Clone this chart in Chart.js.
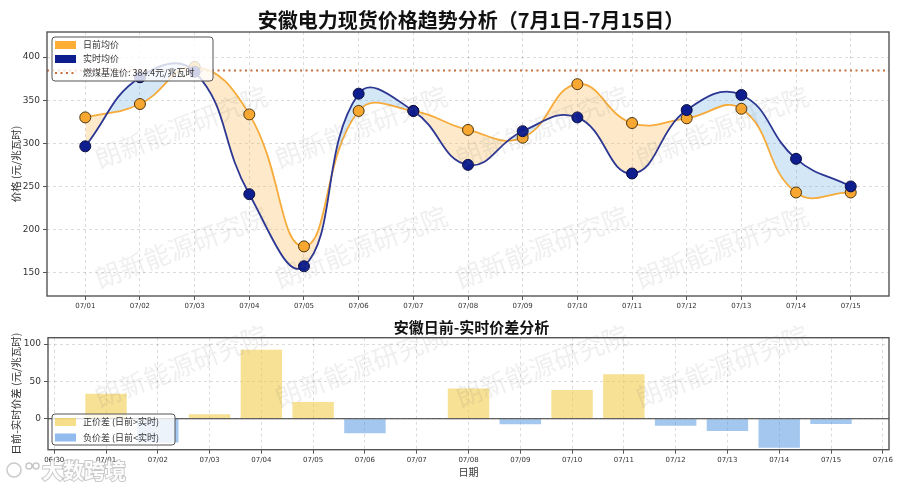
<!DOCTYPE html>
<html>
<head>
<meta charset="utf-8">
<script src="https://cdn.jsdelivr.net/npm/chart.js@4.4.0/dist/chart.umd.min.js"></script>
<style>
  html, body { margin: 0; padding: 0; background: #fff; }
  #wrap { position: relative; width: 900px; height: 489px; overflow: hidden; }
  .box { position: absolute; left: 0; width: 900px; }
</style>
</head>
<body>
<div id="wrap">
  <div class="box" style="top:0;height:315px"><canvas id="priceChart"></canvas></div>
  <div class="box" style="top:315px;height:174px"><canvas id="spreadChart"></canvas></div>
</div>
<script>
// 数据
const dates = ['07/01', '07/02', '07/03', '07/04', '07/05', '07/06', '07/07', '07/08',
  '07/09', '07/10', '07/11', '07/12', '07/13', '07/14', '07/15'];
const dayAhead = [330, 345.5, 388.5, 333.5, 180.5, 337.5, 337.5, 315.5, 306.5, 368.5, 323.5, 329, 340, 243, 243];
const realTime = [296.5, 376.5, 383, 241, 157.5, 357.5, 337.5, 275, 314, 330, 265, 338.5, 356, 282, 250];
const coalBenchmark = 384.4;
const priceTicks = [150, 200, 250, 300, 350, 400];

const spreadLabels = ['06/30', '07/01', '07/02', '07/03', '07/04', '07/05', '07/06', '07/07', '07/08',
  '07/09', '07/10', '07/11', '07/12', '07/13', '07/14', '07/15', '07/16'];
const spread = [33.5, -32, 5.9, 92.5, 22.5, -19.6, 0, 40.6, -7.5, 38.5, 59.5, -9.4, -16.5, -38.9, -7.1];
const spreadTicks = [0, 50, 100];

const CJK = '"Noto Sans CJK SC", sans-serif';
const NUM = '"DejaVu Sans", sans-serif';
const GRID = 'rgba(0,0,0,0.14)';

// 水印 + 边框 + 标题 + 图例
function drawWatermarks(ctx, ys) {
  ctx.save();
  ctx.font = '26px ' + CJK;
  ctx.fillStyle = 'rgba(120,120,120,0.12)';
  ctx.textAlign = 'center';
  ctx.textBaseline = 'middle';
  [181, 361, 542, 722].forEach(x => {
    ys.forEach(y => {
      ctx.save();
      ctx.translate(x, y);
      ctx.rotate(-21 * Math.PI / 180);
      ctx.fillText('朗新能源研究院', 0, 0);
      ctx.restore();
    });
  });
  ctx.restore();
}

function drawFrame(chart) {
  const { ctx, chartArea: a } = chart;
  ctx.save();
  ctx.strokeStyle = '#555';
  ctx.lineWidth = 1.4;
  ctx.strokeRect(a.left, a.top, a.right - a.left, a.bottom - a.top);
  ctx.restore();
}

function drawTitle(chart, text, size, y) {
  const { ctx, chartArea: a } = chart;
  ctx.save();
  ctx.font = 'bold ' + size + 'px ' + CJK;
  ctx.fillStyle = '#111';
  ctx.textAlign = 'center';
  ctx.textBaseline = 'middle';
  ctx.fillText(text, (a.left + a.right) / 2 + 3, y);
  ctx.restore();
}

function drawLegend(ctx, box, items) {
  ctx.save();
  ctx.beginPath();
  ctx.roundRect(box.x, box.y, box.w, box.h, 3);
  ctx.fillStyle = 'rgba(255,255,255,0.8)';
  ctx.fill();
  ctx.strokeStyle = '#555';
  ctx.lineWidth = 1;
  ctx.stroke();
  ctx.font = '9px ' + CJK;
  ctx.textBaseline = 'middle';
  items.forEach((it, i) => {
    const cy = box.y + 8 + i * box.step;
    const sx = box.x + 3;
    if (it.type === 'dots') {
      ctx.strokeStyle = it.color;
      ctx.lineWidth = 2;
      ctx.setLineDash([2, 3.5]);
      ctx.beginPath();
      ctx.moveTo(sx, cy);
      ctx.lineTo(sx + 21, cy);
      ctx.stroke();
      ctx.setLineDash([]);
    } else {
      ctx.fillStyle = it.color;
      ctx.fillRect(sx, cy - 4, 21, 8);
    }
    ctx.fillStyle = '#333';
    ctx.fillText(it.label, box.x + 31, cy);
  });
  ctx.restore();
}

// 价格趋势图
new Chart(document.getElementById('priceChart'), {
  type: 'line',
  data: {
    datasets: [
      {
        label: '日前均价',
        data: dayAhead.map((v, i) => ({ x: i, y: v })),
        borderColor: '#f6ab3a',
        borderWidth: 1.8,
        tension: 0.45,
        pointRadius: 5.5,
        pointBackgroundColor: '#f8a830',
        pointBorderColor: '#4a3410',
        pointBorderWidth: 1,
        order: 2,
        fill: { target: 1, above: 'rgba(253,190,90,0.32)', below: 'rgba(110,175,230,0.3)' }
      },
      {
        label: '实时均价',
        data: realTime.map((v, i) => ({ x: i, y: v })),
        borderColor: '#2c3693',
        borderWidth: 1.8,
        tension: 0.45,
        pointRadius: 5.5,
        pointBackgroundColor: '#0f1e8f',
        pointBorderColor: '#0a0f40',
        pointBorderWidth: 1,
        order: 1,
        fill: false
      },
      {
        label: '燃煤基准价: ' + coalBenchmark + '元/兆瓦时',
        data: [{ x: -0.7, y: coalBenchmark }, { x: 14.7, y: coalBenchmark }],
        borderColor: '#c8703c',
        borderWidth: 2,
        borderDash: [2, 3.5],
        pointRadius: 0,
        order: 3,
        fill: false
      }
    ]
  },
  options: {
    responsive: true,
    maintainAspectRatio: false,
    animation: false,
    layout: { padding: { left: 0, right: 11, top: 32, bottom: 0 } },
    plugins: { legend: { display: false }, tooltip: { enabled: false } },
    scales: {
      x: {
        type: 'linear',
        min: -0.7,
        max: 14.7,
        afterBuildTicks: s => { s.ticks = dates.map((d, i) => ({ value: i })); },
        afterFit: s => { s.height = 19; },
        ticks: {
          callback: v => dates[v],
          font: { size: 7, family: NUM },
          color: '#333',
          padding: 2,
          maxRotation: 0,
          autoSkip: false
        },
        grid: { color: GRID, tickColor: '#555', tickLength: 4 },
        border: { display: false, dash: [3, 3] }
      },
      y: {
        min: 123,
        max: 429,
        afterBuildTicks: s => { s.ticks = priceTicks.map(v => ({ value: v })); },
        afterFit: s => { s.width = 47; },
        ticks: { font: { size: 9, family: NUM }, color: '#333', padding: 3 },
        title: {
          display: true,
          text: '价格 (元/兆瓦时)',
          font: { size: 10.5, family: CJK },
          color: '#333',
          padding: { top: 10, bottom: 0 }
        },
        grid: { color: GRID, tickColor: '#555', tickLength: 4 },
        border: { display: false, dash: [3, 3] }
      }
    }
  },
  plugins: [{
    id: 'decor',
    afterDraw(chart) {
      const ctx = chart.ctx;
      drawFrame(chart);
      drawTitle(chart, '安徽电力现货价格趋势分析（7月1日-7月15日）', 20, 20);
      const ds = chart.data.datasets;
      drawLegend(ctx, { x: 52, y: 37, w: 161, h: 44, step: 14 }, [
        { label: ds[0].label, type: 'rect', color: '#ffae35' },
        { label: ds[1].label, type: 'rect', color: '#0f1e8f' },
        { label: ds[2].label, type: 'dots', color: '#c8703c' }
      ]);
      drawWatermarks(ctx, [127, 247]);
    }
  }]
});

// 价差分析图
new Chart(document.getElementById('spreadChart'), {
  type: 'bar',
  data: {
    datasets: [
      {
        label: '正价差 (日前>实时)',
        data: spread.map((v, i) => ({ x: i, y: v > 0 ? v : null })),
        backgroundColor: 'rgba(240,200,60,0.55)',
        barPercentage: 0.8,
        categoryPercentage: 1,
        grouped: false
      },
      {
        label: '负价差 (日前<实时)',
        data: spread.map((v, i) => ({ x: i, y: v < 0 ? v : null })),
        backgroundColor: 'rgba(74,144,226,0.5)',
        barPercentage: 0.8,
        categoryPercentage: 1,
        grouped: false
      }
    ]
  },
  options: {
    responsive: true,
    maintainAspectRatio: false,
    animation: false,
    layout: { padding: { left: 0, right: 11, top: 22.7, bottom: 0 } },
    plugins: { legend: { display: false }, tooltip: { enabled: false } },
    scales: {
      x: {
        type: 'linear',
        offset: false,
        min: -1.12,
        max: 15.12,
        afterBuildTicks: s => { s.ticks = spreadLabels.map((d, i) => ({ value: i - 1 })); },
        afterFit: s => { s.height = 39.3; },
        ticks: {
          callback: v => spreadLabels[v + 1],
          font: { size: 7, family: NUM },
          color: '#333',
          padding: 2,
          maxRotation: 0,
          autoSkip: false
        },
        title: {
          display: true,
          text: '日期',
          font: { size: 10, family: CJK },
          color: '#333',
          padding: { top: 0, bottom: 10.5 }
        },
        grid: { color: GRID, tickColor: '#555', tickLength: 4, offset: false },
        border: { display: false, dash: [3, 3] }
      },
      y: {
        min: -41.5,
        max: 108.6,
        afterBuildTicks: s => { s.ticks = spreadTicks.map(v => ({ value: v })); },
        afterFit: s => { s.width = 48; },
        ticks: { font: { size: 9, family: NUM }, color: '#333', padding: 3 },
        title: {
          display: true,
          text: '日前-实时价差 (元/兆瓦时)',
          font: { size: 10.5, family: CJK },
          color: '#333',
          padding: { top: 10, bottom: 0 }
        },
        grid: { color: GRID, tickColor: '#555', tickLength: 4 },
        border: { display: false, dash: [3, 3] }
      }
    }
  },
  plugins: [{
    id: 'decor',
    afterDatasetsDraw(chart) {
      const { ctx, chartArea: a, scales } = chart;
      const y0 = scales.y.getPixelForValue(0);
      ctx.save();
      ctx.strokeStyle = '#333';
      ctx.lineWidth = 1.2;
      ctx.beginPath();
      ctx.moveTo(a.left, y0);
      ctx.lineTo(a.right, y0);
      ctx.stroke();
      ctx.restore();
    },
    afterDraw(chart) {
      const ctx = chart.ctx;
      drawFrame(chart);
      drawTitle(chart, '安徽日前-实时价差分析', 15, 12.7);
      const ds = chart.data.datasets;
      drawLegend(ctx, { x: 52, y: 99, w: 123, h: 31, step: 15.5 }, [
        { label: ds[0].label, type: 'rect', color: 'rgba(240,200,60,0.6)' },
        { label: ds[1].label, type: 'rect', color: 'rgba(74,144,226,0.6)' }
      ]);
      drawWatermarks(ctx, [51]);
      // 平台水印
      ctx.save();
      ctx.font = 'bold 21px ' + CJK;
      ctx.textBaseline = 'middle';
      ctx.lineWidth = 2;
      ctx.strokeStyle = 'rgba(150,150,150,0.5)';
      ctx.fillStyle = 'rgba(255,255,255,0.95)';
      ctx.strokeText('大数跨境', 42, 155);
      ctx.fillText('大数跨境', 42, 155);
      ctx.lineWidth = 1.5;
      [[14, 155, 7], [29, 151, 3], [36, 151, 3]].forEach(([cx, cy, r]) => {
        ctx.beginPath();
        ctx.arc(cx, cy, r, 0, Math.PI * 2);
        ctx.stroke();
      });
      ctx.restore();
    }
  }]
});
</script>
</body>
</html>
